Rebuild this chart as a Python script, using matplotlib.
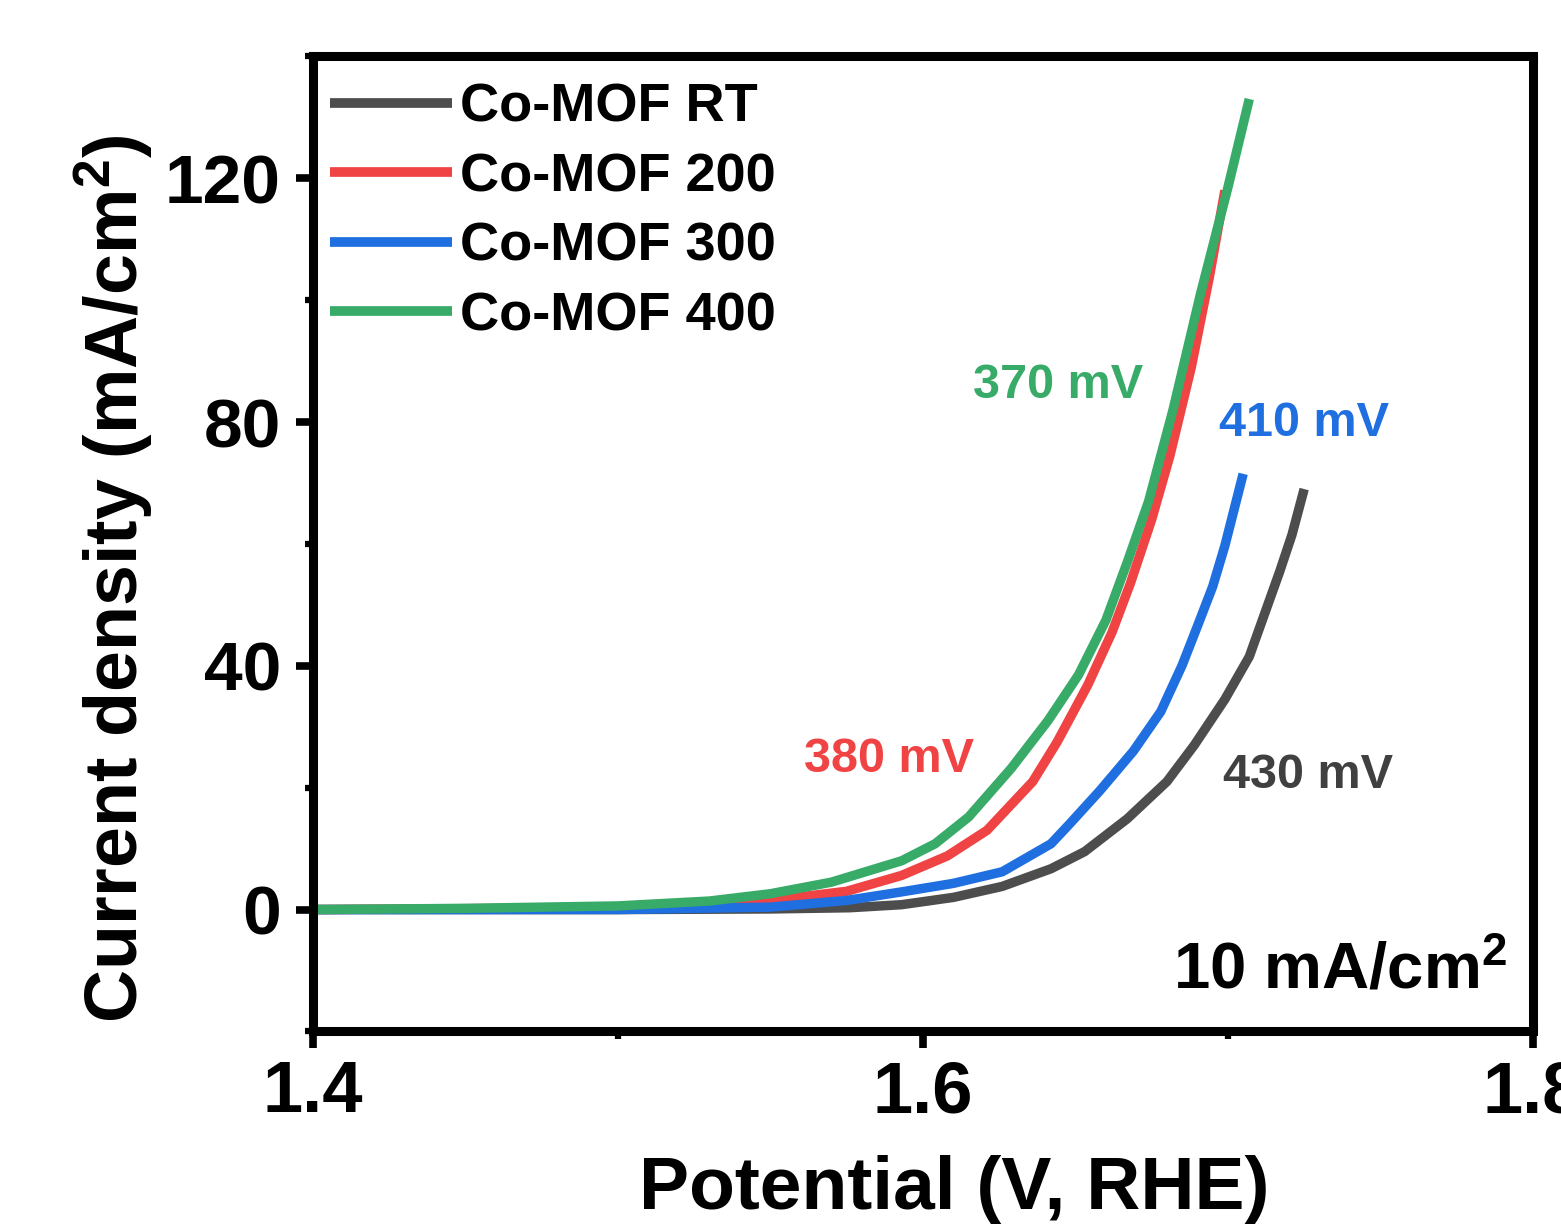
import matplotlib
matplotlib.use("Agg")
import matplotlib.pyplot as plt
from matplotlib.ticker import MultipleLocator

plt.rcParams['font.family'] = ['Liberation Sans', 'DejaVu Sans']
plt.rcParams['font.weight'] = 'bold'
plt.rcParams['mathtext.fontset'] = 'custom'
plt.rcParams['mathtext.rm'] = 'Liberation Sans:bold'
plt.rcParams['mathtext.default'] = 'rm'

# LSV curves (V vs RHE, mA/cm2)
rt_v = [1.400, 1.500, 1.550, 1.576, 1.593, 1.610, 1.626, 1.642, 1.653, 1.667,
        1.680, 1.689, 1.699, 1.707, 1.712, 1.717, 1.721, 1.725]
rt_j = [0.0, 0.0, 0.1, 0.3, 0.8, 2.0, 3.8, 6.7, 9.5, 14.9,
        21.0, 27.0, 34.5, 41.5, 48.5, 55.5, 61.5, 69.0]

c200_v = [1.400, 1.500, 1.550, 1.575, 1.593, 1.608, 1.621, 1.636, 1.644, 1.654,
          1.662, 1.668, 1.675, 1.681, 1.688, 1.694, 1.699]
c200_j = [0.0, 0.3, 1.5, 3.0, 5.6, 8.8, 13.0, 21.0, 27.5, 36.8,
          45.5, 53.5, 64.0, 74.5, 89.0, 104.0, 118.0]

c300_v = [1.400, 1.500, 1.550, 1.575, 1.593, 1.610, 1.626, 1.642, 1.648, 1.658,
          1.669, 1.678, 1.685, 1.690, 1.695, 1.699, 1.702, 1.705]
c300_j = [0.0, 0.0, 0.4, 1.5, 2.9, 4.3, 6.2, 10.8, 14.0, 19.5,
          26.0, 32.5, 40.1, 46.5, 53.0, 59.7, 65.6, 71.5]

c400_v = [1.400, 1.450, 1.500, 1.530, 1.550, 1.570, 1.593, 1.604, 1.615, 1.629,
          1.641, 1.651, 1.660, 1.667, 1.674, 1.682, 1.691, 1.700, 1.707]
c400_j = [0.0, 0.2, 0.6, 1.4, 2.6, 4.5, 8.0, 10.8, 15.2, 23.2,
          31.0, 38.5, 47.5, 57.0, 67.0, 82.0, 101.0, 118.5, 133.0]

labels = ['Co-MOF RT', 'Co-MOF 200', 'Co-MOF 300', 'Co-MOF 400']
colors = ['#4d4d4d', '#f04343', '#1f6fe0', '#38ab68']
overpot = ['430 mV', '380 mV', '410 mV', '370 mV']


def main():
    fig = plt.figure(figsize=(15.61, 12.25), dpi=100)
    ax = fig.add_axes([0.2005, 0.158, 0.7815, 0.796])

    series = [(rt_v, rt_j), (c200_v, c200_j), (c300_v, c300_j), (c400_v, c400_j)]
    for (v, j), lab, col in zip(series, labels, colors):
        ax.plot(v, j, color=col, lw=6.8, label=lab, solid_capstyle='butt',
                solid_joinstyle='round')

    ax.set_xlim(1.4, 1.8)
    ax.set_ylim(-20, 140)
    ax.xaxis.set_major_locator(MultipleLocator(0.2))
    ax.xaxis.set_minor_locator(MultipleLocator(0.1))
    ax.yaxis.set_major_locator(MultipleLocator(40))
    ax.yaxis.set_minor_locator(MultipleLocator(20))
    ax.set_xticks([1.4, 1.6, 1.8])
    ax.set_xticklabels(['1.4', '1.6', '1.8'])

    for s in ax.spines.values():
        s.set_linewidth(6.5)
    ax.tick_params(which='major', direction='out', length=12, width=5.5)
    ax.tick_params(which='minor', direction='out', length=6, width=4.5)
    ax.tick_params(axis='x', which='major', labelsize=52, pad=8)
    ax.tick_params(axis='y', which='major', labelsize=50, pad=11)

    ax.set_xlabel('Potential (V, RHE)', fontsize=54, fontweight='bold')
    ax.xaxis.set_label_coords(0.526, -0.127)
    ax.set_ylabel('Current density (mA/cm$^2$)', fontsize=53, fontweight='bold')
    ax.yaxis.set_label_coords(-0.1295, 0.4646)

    # overpotential annotations
    ax.text(1.6164, 86, overpot[3], color=colors[3], fontsize=35, fontweight='bold', va='center')
    ax.text(1.561, 24.7, overpot[1], color=colors[1], fontsize=35, fontweight='bold', va='center')
    ax.text(1.697, 79.7, overpot[2], color=colors[2], fontsize=35, fontweight='bold', va='center')
    ax.text(1.6985, 22, overpot[0], color='#404040', fontsize=35, fontweight='bold', va='center')
    ax.text(1.682, -10, '10 mA/cm$^2$', color='black', fontsize=47, fontweight='bold', va='center')

    leg = ax.legend(loc='upper left', bbox_to_anchor=(0.014, 0.973), frameon=False,
                    fontsize=39, handlelength=2.25, handletextpad=0.14,
                    labelspacing=0.36, borderaxespad=0.0, borderpad=0.0)
    for line in leg.get_lines():
        line.set_linewidth(7)

    fig.savefig('out.png', dpi=100)


if __name__ == "__main__":
    main()
